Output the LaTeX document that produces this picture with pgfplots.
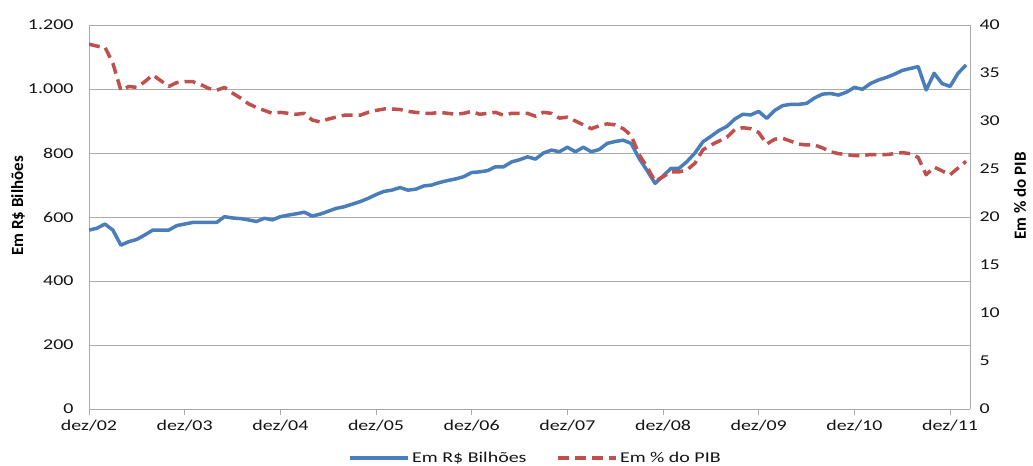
\documentclass[border=0pt]{standalone}
\usepackage{pgfplots}
\pgfplotsset{compat=1.18}
\usepackage{pgfplotstable}
\usepackage{fontspec}
\setmainfont{Carlito}[FakeStretch=1.33]
\newfontfamily\vfont{Carlito}
\definecolor{blu}{RGB}{74,126,187}
\definecolor{rd}{RGB}{192,80,77}
\definecolor{gridc}{RGB}{170,170,170}
\definecolor{txt}{RGB}{20,20,20}
\pgfplotstableread{
m bi pib
0 559 38.0
1 565 37.8
2 578 37.7
3 559 36.0
4 512 33.2
5 523 33.6
6 530 33.5
7 544 34.1
8 559 34.8
9 559 34.2
10 559 33.6
11 573 34.0
12 578 34.1
13 583 34.1
14 583 33.8
15 583 33.4
16 583 33.2
17 601 33.5
18 597 32.9
19 595 32.4
20 591 31.8
21 586 31.4
22 596 31.1
23 591 30.8
24 601 30.9
25 606 30.8
26 610 30.7
27 615 30.8
28 603 30.1
29 609 29.9
30 618 30.2
31 627 30.4
32 632 30.6
33 640 30.6
34 648 30.6
35 658 30.9
36 670 31.1
37 680 31.25
38 684 31.25
39 692 31.2
40 684 31.0
41 687 30.9
42 697 30.8
43 700 30.8
44 708 30.9
45 714 30.8
46 719 30.7
47 726 30.8
48 739 31.0
49 741 30.7
50 745 30.8
51 757 30.9
52 757 30.6
53 772 30.8
54 779 30.8
55 788 30.8
56 781 30.5
57 800 30.9
58 809 30.8
59 804 30.3
60 818 30.4
61 804 30.0
62 818 29.6
63 804 29.2
64 811 29.5
65 830 29.7
66 836 29.6
67 840 29.2
68 830 28.5
69 783 26.5
70 745 25.2
71 705 23.7
72 728 24.2
73 752 24.7
74 752 24.7
75 773 24.9
76 800 25.6
77 835 27.0
78 852 27.5
79 870 27.9
80 883 28.3
81 906 29.1
82 921 29.3
83 919 29.2
84 930 28.8
85 908 27.6
86 933 28.1
87 948 28.2
88 952 27.9
89 952 27.6
90 955 27.5
91 972 27.5
92 984 27.2
93 986 26.8
94 981 26.6
95 990 26.5
96 1005 26.4
97 999 26.4
98 1017 26.5
99 1028 26.5
100 1036 26.5
101 1046 26.6
102 1058 26.7
103 1064 26.6
104 1070 26.2
105 997 24.4
106 1049 25.2
107 1017 24.8
108 1008 24.4
109 1049 25.1
110 1075 25.8
}\datatable
\pgfplotsset{
  common/.style={
    scale only axis, width=881bp, height=384bp,
    at={(0,0)}, anchor=south west,
    xmin=0, xmax=110.5,
    tick label style={font=\fontsize{15bp}{18bp}\selectfont, text=txt},
    /pgf/number format/assume math mode=true,
    /pgf/number format/1000 sep={.},
    axis line style={draw=gridc, line width=0.9bp},
    label style={font=\vfont\bfseries\fontsize{17bp}{20bp}\selectfont, text=black},
  }
}
\begin{document}
\begin{tikzpicture}
\useasboundingbox (-89bp,-57bp) rectangle (944bp,409bp);
\begin{axis}[common,
  axis x line*=bottom, axis y line*=left,
  ymin=0, ymax=1200, ytick={0,200,...,1200},
  ymajorgrids, grid style={draw=gridc, line width=0.9bp},
  xtick={0,12,...,108},
  xticklabels={dez/02,dez/03,dez/04,dez/05,dez/06,dez/07,dez/08,dez/09,dez/10,dez/11},
  tick align=outside,
  xtick style={draw=gridc, line width=0.9bp},
  major tick length=6bp,
  ytick style={draw=none},
  ylabel={Em R\$ Bilhões},
  ylabel style={at={(axis description cs:-0.0806,0.529)}, anchor=center},
  yticklabel style={xshift=-6bp},
  xticklabel style={yshift=-2bp},
]
\addplot[blu, line width=3.5bp, line join=round] table[x=m, y=bi] {\datatable};
\end{axis}
\begin{axis}[common,
  axis y line*=right, axis x line=none,
  ymin=0, ymax=40, ytick={0,5,...,40},
  ytick style={draw=none},
  ylabel={Em \% do PIB},
  ylabel style={at={(axis description cs:1.0567,0.555)}, anchor=center},
  yticklabel style={xshift=6bp},
  legend columns=2,
  legend style={draw=none, fill=none, at={(0.507,-0.128)}, anchor=center,
    font=\fontsize{15bp}{18bp}\selectfont, text=txt,
    /tikz/every even column/.append style={column sep=28bp}},
  legend image code/.code={\draw[#1] (0bp,0bp) -- (58bp,0bp);},
]
\addlegendimage{blu, line width=3.5bp}
\addlegendentry{Em R\$ Bilhões}
\addplot[rd, line width=3.5bp, line join=round, dash pattern=on 11bp off 6bp] table[x=m, y=pib] {\datatable};
\addlegendentry{Em \% do PIB}
\end{axis}
\end{tikzpicture}
\end{document}
